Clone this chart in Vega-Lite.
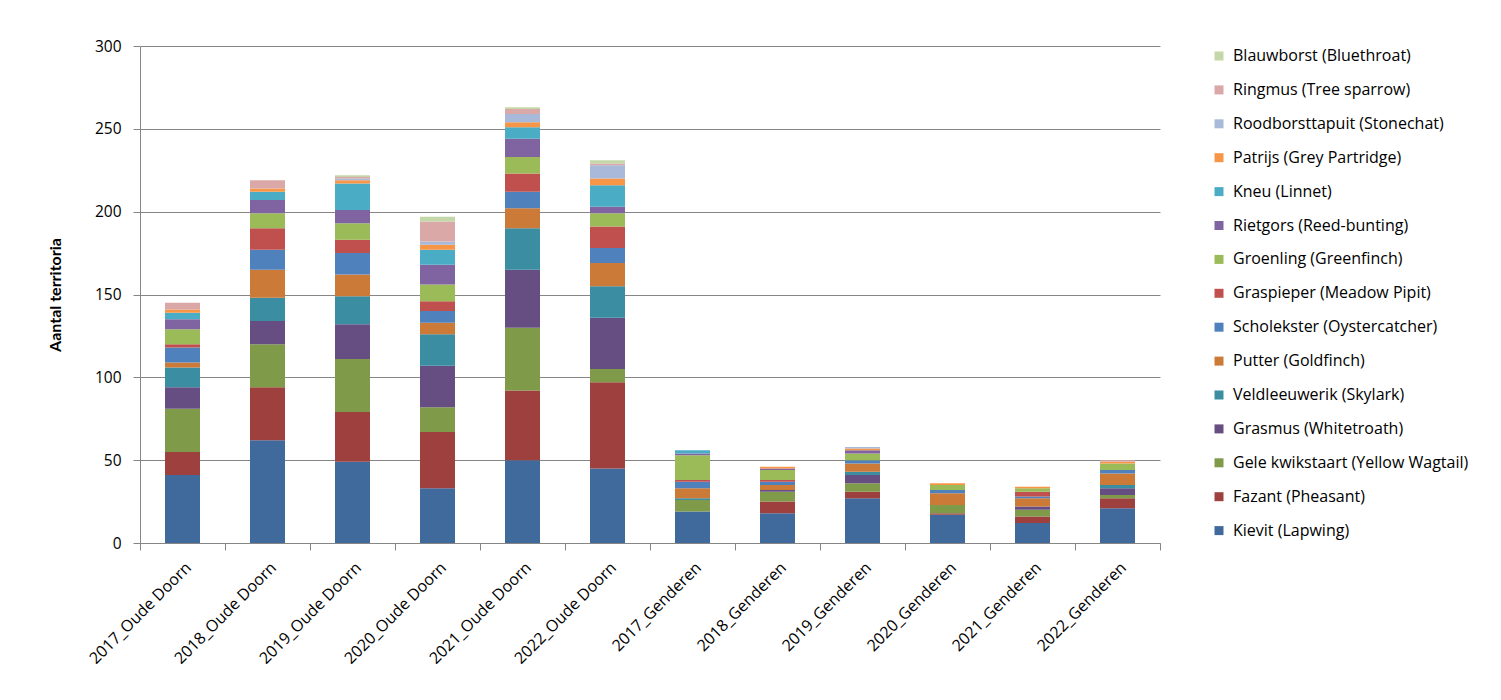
{
  "$schema": "https://vega.github.io/schema/vega-lite/v6.json",
  "width": 1020,
  "height": 497,
  "autosize": {"type": "none"},
  "padding": {"left": 140, "top": 46, "right": 341, "bottom": 157},
  "background": "white",
  "config": {
    "view": {"stroke": null},
    "font": "Open Sans",
    "axis": {"labelFont": "Open Sans", "titleFont": "Lato", "labelColor": "#000000", "titleColor": "#000000", "domainColor": "#868686", "tickColor": "#868686", "gridColor": "#868686"}
  },
  "data": {"values": [
    {"c":"2017_Oude Doorn","s":"Kievit (Lapwing)","v":41},
    {"c":"2017_Oude Doorn","s":"Fazant (Pheasant)","v":14},
    {"c":"2017_Oude Doorn","s":"Gele kwikstaart (Yellow Wagtail)","v":26},
    {"c":"2017_Oude Doorn","s":"Grasmus (Whitetroath)","v":13},
    {"c":"2017_Oude Doorn","s":"Veldleeuwerik (Skylark)","v":12},
    {"c":"2017_Oude Doorn","s":"Putter (Goldfinch)","v":3},
    {"c":"2017_Oude Doorn","s":"Scholekster (Oystercatcher)","v":9},
    {"c":"2017_Oude Doorn","s":"Graspieper (Meadow Pipit)","v":2},
    {"c":"2017_Oude Doorn","s":"Groenling (Greenfinch)","v":9},
    {"c":"2017_Oude Doorn","s":"Rietgors (Reed-bunting)","v":6},
    {"c":"2017_Oude Doorn","s":"Kneu (Linnet)","v":4},
    {"c":"2017_Oude Doorn","s":"Patrijs (Grey Partridge)","v":2},
    {"c":"2017_Oude Doorn","s":"Ringmus (Tree sparrow)","v":4},

    {"c":"2018_Oude Doorn","s":"Kievit (Lapwing)","v":62},
    {"c":"2018_Oude Doorn","s":"Fazant (Pheasant)","v":32},
    {"c":"2018_Oude Doorn","s":"Gele kwikstaart (Yellow Wagtail)","v":26},
    {"c":"2018_Oude Doorn","s":"Grasmus (Whitetroath)","v":14},
    {"c":"2018_Oude Doorn","s":"Veldleeuwerik (Skylark)","v":14},
    {"c":"2018_Oude Doorn","s":"Putter (Goldfinch)","v":17},
    {"c":"2018_Oude Doorn","s":"Scholekster (Oystercatcher)","v":12},
    {"c":"2018_Oude Doorn","s":"Graspieper (Meadow Pipit)","v":13},
    {"c":"2018_Oude Doorn","s":"Groenling (Greenfinch)","v":9},
    {"c":"2018_Oude Doorn","s":"Rietgors (Reed-bunting)","v":8},
    {"c":"2018_Oude Doorn","s":"Kneu (Linnet)","v":5},
    {"c":"2018_Oude Doorn","s":"Patrijs (Grey Partridge)","v":2},
    {"c":"2018_Oude Doorn","s":"Ringmus (Tree sparrow)","v":5},

    {"c":"2019_Oude Doorn","s":"Kievit (Lapwing)","v":49},
    {"c":"2019_Oude Doorn","s":"Fazant (Pheasant)","v":30},
    {"c":"2019_Oude Doorn","s":"Gele kwikstaart (Yellow Wagtail)","v":32},
    {"c":"2019_Oude Doorn","s":"Grasmus (Whitetroath)","v":21},
    {"c":"2019_Oude Doorn","s":"Veldleeuwerik (Skylark)","v":17},
    {"c":"2019_Oude Doorn","s":"Putter (Goldfinch)","v":13},
    {"c":"2019_Oude Doorn","s":"Scholekster (Oystercatcher)","v":13},
    {"c":"2019_Oude Doorn","s":"Graspieper (Meadow Pipit)","v":8},
    {"c":"2019_Oude Doorn","s":"Groenling (Greenfinch)","v":10},
    {"c":"2019_Oude Doorn","s":"Rietgors (Reed-bunting)","v":8},
    {"c":"2019_Oude Doorn","s":"Kneu (Linnet)","v":16},
    {"c":"2019_Oude Doorn","s":"Patrijs (Grey Partridge)","v":2},
    {"c":"2019_Oude Doorn","s":"Roodborsttapuit (Stonechat)","v":1},
    {"c":"2019_Oude Doorn","s":"Ringmus (Tree sparrow)","v":1},
    {"c":"2019_Oude Doorn","s":"Blauwborst (Bluethroat)","v":1},

    {"c":"2020_Oude Doorn","s":"Kievit (Lapwing)","v":33},
    {"c":"2020_Oude Doorn","s":"Fazant (Pheasant)","v":34},
    {"c":"2020_Oude Doorn","s":"Gele kwikstaart (Yellow Wagtail)","v":15},
    {"c":"2020_Oude Doorn","s":"Grasmus (Whitetroath)","v":25},
    {"c":"2020_Oude Doorn","s":"Veldleeuwerik (Skylark)","v":19},
    {"c":"2020_Oude Doorn","s":"Putter (Goldfinch)","v":7},
    {"c":"2020_Oude Doorn","s":"Scholekster (Oystercatcher)","v":7},
    {"c":"2020_Oude Doorn","s":"Graspieper (Meadow Pipit)","v":6},
    {"c":"2020_Oude Doorn","s":"Groenling (Greenfinch)","v":10},
    {"c":"2020_Oude Doorn","s":"Rietgors (Reed-bunting)","v":12},
    {"c":"2020_Oude Doorn","s":"Kneu (Linnet)","v":9},
    {"c":"2020_Oude Doorn","s":"Patrijs (Grey Partridge)","v":3},
    {"c":"2020_Oude Doorn","s":"Roodborsttapuit (Stonechat)","v":2},
    {"c":"2020_Oude Doorn","s":"Ringmus (Tree sparrow)","v":12},
    {"c":"2020_Oude Doorn","s":"Blauwborst (Bluethroat)","v":3},

    {"c":"2021_Oude Doorn","s":"Kievit (Lapwing)","v":50},
    {"c":"2021_Oude Doorn","s":"Fazant (Pheasant)","v":42},
    {"c":"2021_Oude Doorn","s":"Gele kwikstaart (Yellow Wagtail)","v":38},
    {"c":"2021_Oude Doorn","s":"Grasmus (Whitetroath)","v":35},
    {"c":"2021_Oude Doorn","s":"Veldleeuwerik (Skylark)","v":25},
    {"c":"2021_Oude Doorn","s":"Putter (Goldfinch)","v":12},
    {"c":"2021_Oude Doorn","s":"Scholekster (Oystercatcher)","v":10},
    {"c":"2021_Oude Doorn","s":"Graspieper (Meadow Pipit)","v":11},
    {"c":"2021_Oude Doorn","s":"Groenling (Greenfinch)","v":10},
    {"c":"2021_Oude Doorn","s":"Rietgors (Reed-bunting)","v":11},
    {"c":"2021_Oude Doorn","s":"Kneu (Linnet)","v":7},
    {"c":"2021_Oude Doorn","s":"Patrijs (Grey Partridge)","v":3},
    {"c":"2021_Oude Doorn","s":"Roodborsttapuit (Stonechat)","v":5},
    {"c":"2021_Oude Doorn","s":"Ringmus (Tree sparrow)","v":3},
    {"c":"2021_Oude Doorn","s":"Blauwborst (Bluethroat)","v":1},

    {"c":"2022_Oude Doorn","s":"Kievit (Lapwing)","v":45},
    {"c":"2022_Oude Doorn","s":"Fazant (Pheasant)","v":52},
    {"c":"2022_Oude Doorn","s":"Gele kwikstaart (Yellow Wagtail)","v":8},
    {"c":"2022_Oude Doorn","s":"Grasmus (Whitetroath)","v":31},
    {"c":"2022_Oude Doorn","s":"Veldleeuwerik (Skylark)","v":19},
    {"c":"2022_Oude Doorn","s":"Putter (Goldfinch)","v":14},
    {"c":"2022_Oude Doorn","s":"Scholekster (Oystercatcher)","v":9},
    {"c":"2022_Oude Doorn","s":"Graspieper (Meadow Pipit)","v":13},
    {"c":"2022_Oude Doorn","s":"Groenling (Greenfinch)","v":8},
    {"c":"2022_Oude Doorn","s":"Rietgors (Reed-bunting)","v":4},
    {"c":"2022_Oude Doorn","s":"Kneu (Linnet)","v":13},
    {"c":"2022_Oude Doorn","s":"Patrijs (Grey Partridge)","v":4},
    {"c":"2022_Oude Doorn","s":"Roodborsttapuit (Stonechat)","v":8},
    {"c":"2022_Oude Doorn","s":"Ringmus (Tree sparrow)","v":1},
    {"c":"2022_Oude Doorn","s":"Blauwborst (Bluethroat)","v":2},

    {"c":"2017_Genderen","s":"Kievit (Lapwing)","v":19},
    {"c":"2017_Genderen","s":"Gele kwikstaart (Yellow Wagtail)","v":7},
    {"c":"2017_Genderen","s":"Veldleeuwerik (Skylark)","v":1},
    {"c":"2017_Genderen","s":"Putter (Goldfinch)","v":6},
    {"c":"2017_Genderen","s":"Scholekster (Oystercatcher)","v":4},
    {"c":"2017_Genderen","s":"Graspieper (Meadow Pipit)","v":1},
    {"c":"2017_Genderen","s":"Groenling (Greenfinch)","v":15},
    {"c":"2017_Genderen","s":"Rietgors (Reed-bunting)","v":1},
    {"c":"2017_Genderen","s":"Kneu (Linnet)","v":2},

    {"c":"2018_Genderen","s":"Kievit (Lapwing)","v":18},
    {"c":"2018_Genderen","s":"Fazant (Pheasant)","v":7},
    {"c":"2018_Genderen","s":"Gele kwikstaart (Yellow Wagtail)","v":6},
    {"c":"2018_Genderen","s":"Grasmus (Whitetroath)","v":1},
    {"c":"2018_Genderen","s":"Putter (Goldfinch)","v":3},
    {"c":"2018_Genderen","s":"Scholekster (Oystercatcher)","v":2},
    {"c":"2018_Genderen","s":"Graspieper (Meadow Pipit)","v":1},
    {"c":"2018_Genderen","s":"Groenling (Greenfinch)","v":6},
    {"c":"2018_Genderen","s":"Rietgors (Reed-bunting)","v":1},
    {"c":"2018_Genderen","s":"Patrijs (Grey Partridge)","v":1},

    {"c":"2019_Genderen","s":"Kievit (Lapwing)","v":27},
    {"c":"2019_Genderen","s":"Fazant (Pheasant)","v":4},
    {"c":"2019_Genderen","s":"Gele kwikstaart (Yellow Wagtail)","v":5},
    {"c":"2019_Genderen","s":"Grasmus (Whitetroath)","v":5},
    {"c":"2019_Genderen","s":"Veldleeuwerik (Skylark)","v":2},
    {"c":"2019_Genderen","s":"Putter (Goldfinch)","v":5},
    {"c":"2019_Genderen","s":"Scholekster (Oystercatcher)","v":2},
    {"c":"2019_Genderen","s":"Groenling (Greenfinch)","v":4},
    {"c":"2019_Genderen","s":"Rietgors (Reed-bunting)","v":2},
    {"c":"2019_Genderen","s":"Patrijs (Grey Partridge)","v":1},
    {"c":"2019_Genderen","s":"Roodborsttapuit (Stonechat)","v":1},

    {"c":"2020_Genderen","s":"Kievit (Lapwing)","v":17},
    {"c":"2020_Genderen","s":"Fazant (Pheasant)","v":1},
    {"c":"2020_Genderen","s":"Gele kwikstaart (Yellow Wagtail)","v":5},
    {"c":"2020_Genderen","s":"Putter (Goldfinch)","v":7},
    {"c":"2020_Genderen","s":"Scholekster (Oystercatcher)","v":2},
    {"c":"2020_Genderen","s":"Groenling (Greenfinch)","v":3},
    {"c":"2020_Genderen","s":"Patrijs (Grey Partridge)","v":1},

    {"c":"2021_Genderen","s":"Kievit (Lapwing)","v":12},
    {"c":"2021_Genderen","s":"Fazant (Pheasant)","v":4},
    {"c":"2021_Genderen","s":"Gele kwikstaart (Yellow Wagtail)","v":4},
    {"c":"2021_Genderen","s":"Grasmus (Whitetroath)","v":2},
    {"c":"2021_Genderen","s":"Putter (Goldfinch)","v":5},
    {"c":"2021_Genderen","s":"Scholekster (Oystercatcher)","v":1},
    {"c":"2021_Genderen","s":"Graspieper (Meadow Pipit)","v":3},
    {"c":"2021_Genderen","s":"Groenling (Greenfinch)","v":2},
    {"c":"2021_Genderen","s":"Patrijs (Grey Partridge)","v":1},

    {"c":"2022_Genderen","s":"Kievit (Lapwing)","v":21},
    {"c":"2022_Genderen","s":"Fazant (Pheasant)","v":6},
    {"c":"2022_Genderen","s":"Gele kwikstaart (Yellow Wagtail)","v":2},
    {"c":"2022_Genderen","s":"Grasmus (Whitetroath)","v":4},
    {"c":"2022_Genderen","s":"Veldleeuwerik (Skylark)","v":2},
    {"c":"2022_Genderen","s":"Putter (Goldfinch)","v":7},
    {"c":"2022_Genderen","s":"Scholekster (Oystercatcher)","v":2},
    {"c":"2022_Genderen","s":"Groenling (Greenfinch)","v":4},
    {"c":"2022_Genderen","s":"Patrijs (Grey Partridge)","v":1},
    {"c":"2022_Genderen","s":"Ringmus (Tree sparrow)","v":1}
  ]},
  "transform": [
    {"calculate": "indexof(['Blauwborst (Bluethroat)','Ringmus (Tree sparrow)','Roodborsttapuit (Stonechat)','Patrijs (Grey Partridge)','Kneu (Linnet)','Rietgors (Reed-bunting)','Groenling (Greenfinch)','Graspieper (Meadow Pipit)','Scholekster (Oystercatcher)','Putter (Goldfinch)','Veldleeuwerik (Skylark)','Grasmus (Whitetroath)','Gele kwikstaart (Yellow Wagtail)','Fazant (Pheasant)','Kievit (Lapwing)'], datum.s)", "as": "rank"}
  ],
  "mark": {"type": "bar", "size": 35},
  "encoding": {
    "x": {
      "field": "c", "type": "nominal", "sort": null,
      "scale": {"domain": ["2017_Oude Doorn","2018_Oude Doorn","2019_Oude Doorn","2020_Oude Doorn","2021_Oude Doorn","2022_Oude Doorn","2017_Genderen","2018_Genderen","2019_Genderen","2020_Genderen","2021_Genderen","2022_Genderen"], "paddingInner": 0, "paddingOuter": 0},
      "axis": {"title": null, "labelAngle": -45, "labelFontSize": 16, "labelPadding": 9, "tickBand": "extent", "tickSize": 7, "grid": false, "domainColor": "#868686"}
    },
    "y": {
      "aggregate": "sum", "field": "v", "type": "quantitative", "stack": "zero",
      "scale": {"domain": [0, 300], "nice": false},
      "axis": {"title": "Aantal territoria", "titleFontSize": 16, "titleFontWeight": "bold", "titleX": -85, "titleY": 248.5, "titleAngle": -90, "titleBaseline": "middle", "titleAlign": "center", "values": [0,50,100,150,200,250,300], "labelFontSize": 15.5, "labelPadding": 12, "tickSize": 7, "grid": true, "gridWidth": 1}
    },
    "color": {
      "field": "s", "type": "nominal",
      "scale": {
        "domain": ["Blauwborst (Bluethroat)","Ringmus (Tree sparrow)","Roodborsttapuit (Stonechat)","Patrijs (Grey Partridge)","Kneu (Linnet)","Rietgors (Reed-bunting)","Groenling (Greenfinch)","Graspieper (Meadow Pipit)","Scholekster (Oystercatcher)","Putter (Goldfinch)","Veldleeuwerik (Skylark)","Grasmus (Whitetroath)","Gele kwikstaart (Yellow Wagtail)","Fazant (Pheasant)","Kievit (Lapwing)"],
        "range": ["#C4D7A8","#D9A8A7","#A9B9D9","#F79646","#4BACC6","#8064A2","#9BBB59","#C0504D","#4F81BD","#CB7A38","#3B8DA2","#664E83","#7F9A48","#9E413E","#40699C"]
      },
      "legend": {"title": null, "orient": "none", "legendX": 1071, "legendY": 2, "padding": 0, "symbolType": "square", "symbolSize": 81, "symbolStrokeWidth": 0, "symbolOpacity": 1, "labelFontSize": 16, "labelFont": "Open Sans", "labelColor": "#000000", "labelOffset": 6, "rowPadding": 17.9, "labelLimit": 400}
    },
    "order": {"field": "rank", "type": "quantitative", "sort": "descending"}
  }
}
